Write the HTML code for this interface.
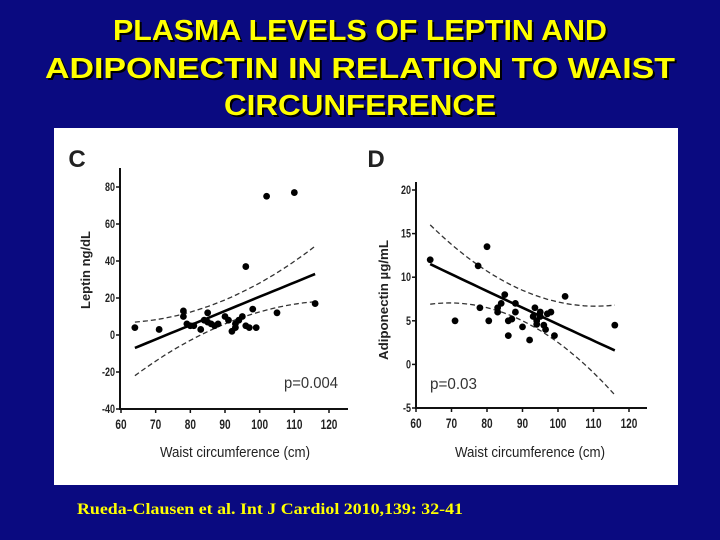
<!DOCTYPE html>
<html><head><meta charset="utf-8"><style>
html,body{margin:0;padding:0;background:#0a0a80;}
svg{display:block}
</style></head><body>
<svg width="720" height="540" viewBox="0 0 720 540" xmlns="http://www.w3.org/2000/svg">
<rect x="0" y="0" width="720" height="540" fill="#0a0a80"/>
<g font-family="'Liberation Sans','DejaVu Sans',sans-serif" font-weight="bold" font-size="29" text-anchor="middle">
<text x="362" y="42" fill="#000" textLength="494" lengthAdjust="spacingAndGlyphs">PLASMA LEVELS OF LEPTIN AND</text>
<text x="360" y="40" fill="#ffff00" textLength="494" lengthAdjust="spacingAndGlyphs">PLASMA LEVELS OF LEPTIN AND</text>
<text x="362" y="80" fill="#000" textLength="630" lengthAdjust="spacingAndGlyphs">ADIPONECTIN IN RELATION TO WAIST</text>
<text x="360" y="78" fill="#ffff00" textLength="630" lengthAdjust="spacingAndGlyphs">ADIPONECTIN IN RELATION TO WAIST</text>
<text x="362" y="117" fill="#000" textLength="272" lengthAdjust="spacingAndGlyphs">CIRCUNFERENCE</text>
<text x="360" y="115" fill="#ffff00" textLength="272" lengthAdjust="spacingAndGlyphs">CIRCUNFERENCE</text>
</g>
<rect x="54" y="128" width="624" height="357" fill="#fff"/>
<g id="chartC"></g>
<g id="chartD"></g>
<text x="77" y="514" font-family="'Liberation Serif',serif" font-weight="bold" font-size="16" fill="#ffff00" textLength="386" lengthAdjust="spacingAndGlyphs">Rueda-Clausen et al. Int J Cardiol 2010,139: 32-41</text>
</svg>
<script>
const xTicks=[60,70,80,90,100,110,120];
const cTicks=[80,60,40,20,0,-20,-40];
const cWaist=[64,71,78,78,79,80,81,83,84,85,85,86,87,88,90,91,92,93,93,94,95,96,96,97,98,99,102,105,110,116];
const cLeptin=[4,3,13,10,6,5,5,3,8,12,7,6,5,6,10,8,2,4,6,8,10,5,37,4,14,4,75,12,77,17];
const cFitX=[64,90,116];
const cFit=[-7,13,33];
const cUpper=[7,19,48];
const cLower=[-22,6,18];
const dTicks=[20,15,10,5,0,-5];
const dWaist=[64,71,77.5,78,80,80.5,83,83,84,85,86,86,87,88,88,90,92,93,93.5,94,94,95,95,96,96.5,97,98,99,102,116];
const dAdipo=[12,5,11.3,6.5,13.5,5,6.5,6,7,8,3.3,5,5.2,7,6,4.3,2.8,5.5,6.5,5,4.6,6,5.5,4.5,4,5.8,6,3.3,7.8,4.5];
const dFit=[11.5,6.5,1.6];
const dUpper=[16,8.5,6.8];
const dLower=[6.9,5,-3.5];
const NS='http://www.w3.org/2000/svg';
function mk(p,tag,attrs,txt){const e=document.createElementNS(NS,tag);for(const k in attrs)e.setAttribute(k,attrs[k]);if(txt!==undefined)e.textContent=txt;p.appendChild(e);return e;}
function curve(sx,sy,xs,ys){
  const x0=xs[0],x1=xs[1],x2=xs[2];let d='';
  for(let i=0;i<=30;i++){const x=x0+(x2-x0)*i/30;
    const L0=(x-x1)*(x-x2)/((x0-x1)*(x0-x2)),L1=(x-x0)*(x-x2)/((x1-x0)*(x1-x2)),L2=(x-x0)*(x-x1)/((x2-x0)*(x2-x1));
    const y=ys[0]*L0+ys[1]*L1+ys[2]*L2;d+=(i?'L':'M')+sx(x).toFixed(1)+' '+sy(y).toFixed(1);}
  return d;}
function draw(g,o){
  const sx=v=>o.x0+(v-60)/60*(o.x1-o.x0);
  const sy=v=>o.yb+(v-o.ymin)/(o.ymax-o.ymin)*(o.yt-o.yb);
  const ax=mk(g,'g',{});
  
  
  mk(ax,'line',{x1:o.ax,y1:o.yTop,x2:o.ax,y2:o.yb+1,stroke:'#111','stroke-width':2});
  mk(ax,'line',{x1:o.ax-1,y1:o.yb,x2:o.xEnd,y2:o.yb,stroke:'#111','stroke-width':2});
  o.yt_.forEach(t=>{const y=sy(t);
    mk(ax,'line',{x1:o.ax-4,y1:y,x2:o.ax,y2:y,stroke:'#111','stroke-width':1.5});
    const tx=mk(ax,'text',{x:o.ax-5,y:y+4,'text-anchor':'end','font-size':12,'font-weight':'bold',fill:'#222','font-family':'Liberation Sans,sans-serif',transform:`translate(${o.ax-5},0) scale(0.75,1) translate(${-(o.ax-5)},0)`},String(t));
    
    });
  xTicks.forEach(t=>{const x=sx(t);
    mk(ax,'line',{x1:x,y1:o.yb,x2:x,y2:o.yb+4,stroke:'#111','stroke-width':1.5});
    const tx=mk(ax,'text',{x:x,y:o.yb+20,'text-anchor':'middle','font-size':14,'font-weight':'bold',fill:'#222','font-family':'Liberation Sans,sans-serif',transform:`translate(${x},0) scale(0.72,1) translate(${-x},0)`},String(t));
    
    });
  const xt=mk(g,'text',{x:o.xtX,y:457,'text-anchor':'middle','font-size':15,fill:'#222','font-family':'Liberation Sans,sans-serif',textLength:150,lengthAdjust:'spacingAndGlyphs'},'Waist circumference (cm)');
  
  
  const yt=mk(g,'text',{x:0,y:0,'text-anchor':'middle','font-size':13,'font-weight':'bold',fill:'#222','font-family':'Liberation Sans,sans-serif',transform:`translate(${o.ytX},${o.ytY}) rotate(-90)`,textLength:o.ytLen,lengthAdjust:'spacingAndGlyphs'},o.yLabel);
  
  
  const pl=mk(g,'text',{x:o.plX,y:167,'text-anchor':'middle','font-size':24,'font-weight':'bold',fill:'#222','font-family':'Liberation Sans,sans-serif'},o.panel);
  
  
  const pv=mk(g,'text',{x:o.pX,y:o.pY,'font-size':16,fill:'#333','font-family':'Liberation Sans,sans-serif',textLength:o.pLen,lengthAdjust:'spacingAndGlyphs'},o.pText);
  
  
  const up=mk(g,'path',{d:curve(sx,sy,cFitX,o.up),fill:'none',stroke:'#333','stroke-width':1.3,'stroke-dasharray':'5,3'});
  
  
  const lo=mk(g,'path',{d:curve(sx,sy,cFitX,o.lo),fill:'none',stroke:'#333','stroke-width':1.3,'stroke-dasharray':'5,3'});
  
  
  const fl=mk(g,'path',{d:curve(sx,sy,cFitX,o.fit),fill:'none',stroke:'#000','stroke-width':2.6});
  
  
  o.xs.forEach((v,i)=>{const c=mk(g,'circle',{cx:sx(v),cy:sy(o.ys[i]),r:3.4,fill:'#000'});
    
    });
}
draw(document.getElementById('chartC'),{x0:121,x1:329,ax:120,xEnd:348,yb:409,yt:187,ymin:-40,ymax:80,yTop:168,yt_:cTicks,
  xtX:235,ytX:90,ytY:270,ytLen:78,yLabel:'Leptin ng/dL',panel:'C',plX:77,pX:284,pY:388,pLen:54,pText:'p=0.004',
  xs:cWaist,ys:cLeptin,fit:cFit,up:cUpper,lo:cLower});
draw(document.getElementById('chartD'),{x0:416,x1:629,ax:416,xEnd:647,yb:408,yt:190,ymin:-5,ymax:20,yTop:182,yt_:dTicks,
  xtX:530,ytX:388,ytY:300,ytLen:120,yLabel:'Adiponectin \u00b5g/mL',panel:'D',plX:376,pX:430,pY:389,pLen:47,pText:'p=0.03',
  xs:dWaist,ys:dAdipo,fit:dFit,up:dUpper,lo:dLower});
</script>
</body></html>
